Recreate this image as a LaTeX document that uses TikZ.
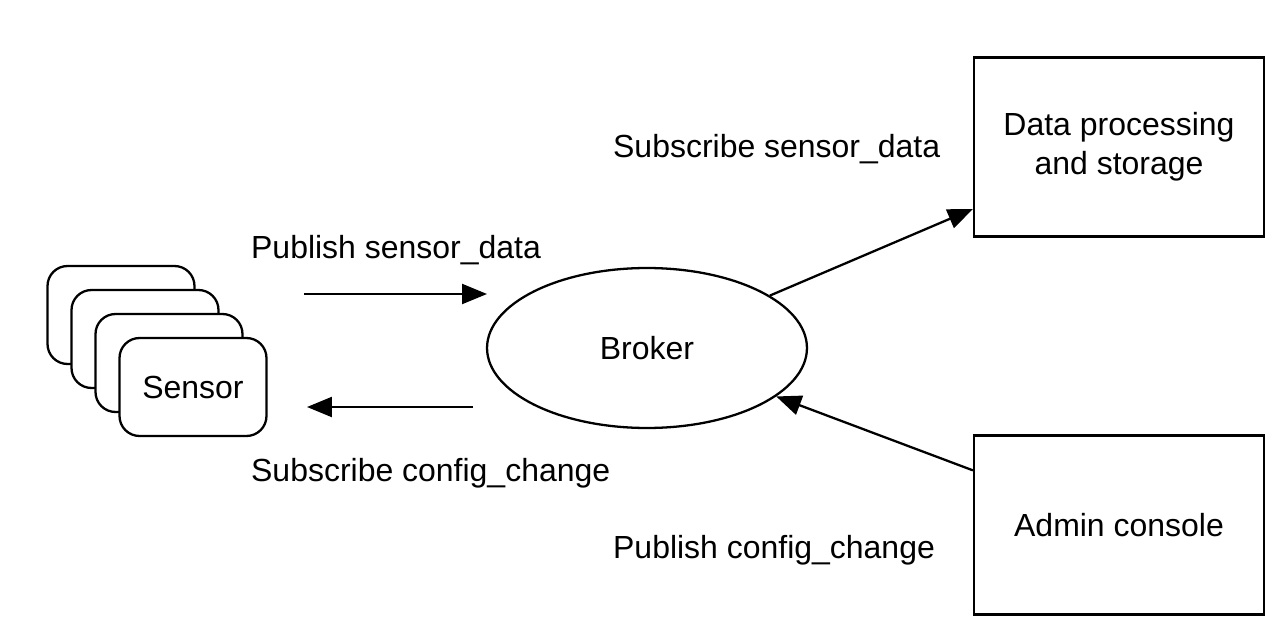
\documentclass[tikz,border=0pt]{standalone}
\usepackage{fontspec}
\setmainfont{Liberation Sans}
\usetikzlibrary{arrows.meta, shapes.geometric}

\begin{document}
\begin{tikzpicture}[x=0.02cm, y=-0.02cm, line width=1.3pt, font=\fontsize{18.2}{22}\selectfont,
    >={Triangle[length=0.5cm, width=0.4cm]},
    box node/.style={rectangle, draw, minimum width=5.8cm, minimum height=3.58cm, align=center},
    sensor node/.style={rectangle, draw, fill=white, rounded corners=0.4cm, minimum width=2.94cm, minimum height=1.96cm},
    broker node/.style={ellipse, draw, minimum width=6.4cm, minimum height=3.2cm},
    text node/.style={anchor=base west, inner sep=0}]
\useasboundingbox (0,0) rectangle (1284,628);

% sensors, back to front
\foreach \i in {0,1,2}
    \node[sensor node] (sensor\i) at (121+24*\i, 315+24*\i) {};
\node[sensor node] (sensor) at (193,387) {Sensor};

\node[broker node] (broker) at (647,348) {Broker};
\node[box node] (data) at (1119,147) {Data processing\\and storage};
\node[box node] (admin) at (1119,525) {Admin console};

% free ends of the sensor arrows
\coordinate (pub start) at (304,294);
\coordinate (pub end) at (487,294);
\coordinate (sub start) at (473,407);
\coordinate (sub end) at (307,407);

\draw[->] (pub start) -- (pub end);
\draw[->] (sub start) -- (sub end);
\draw[->] (broker) -- (data);
\draw[->] (admin) -- (broker);

\node[text node] (pub sensor) at (250,258) {Publish sensor\_data};
\node[text node] (sub config) at (250,481) {Subscribe config\_change};
\node[text node] (sub sensor) at (612,158) {Subscribe sensor\_data};
\node[text node] (pub config) at (612,558) {Publish config\_change};
\end{tikzpicture}
\end{document}
